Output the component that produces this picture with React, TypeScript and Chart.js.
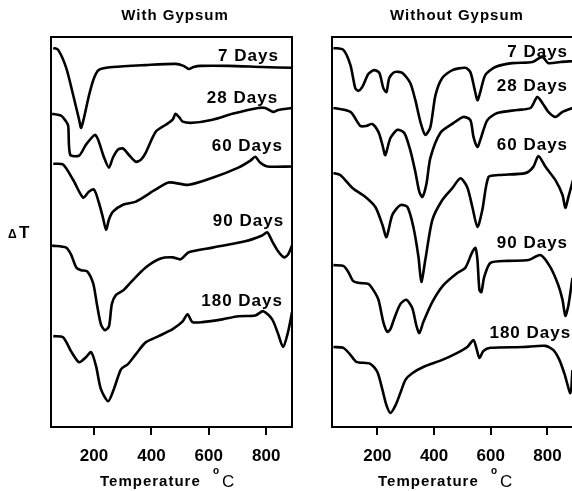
import React, { useEffect, useRef } from "react";
import { Chart, registerables } from "chart.js";

Chart.register(...registerables);

const FONT = '"Liberation Sans", Arial, Helvetica, sans-serif';

// Temperature ticks shown under both panels (°C)
const tempTicks = [200, 400, 600, 800];

// DTA traces, [temperature °C, ΔT in relative units]; curves are stacked by age
// ---- With gypsum ----
const gyp7 = [
  [58, 97.2], [75, 96.7], [103, 92.1], [127, 85.2], [148, 78.8], [155, 76.7], [165, 79.3],
  [183, 85.2], [200, 89.5], [217, 91.6], [266, 92.3], [380, 92.8], [484, 93.1], [512, 92.6],
  [530, 91.8], [547, 92.3], [571, 92.6], [668, 92.6], [786, 92.3], [890, 92.1],
];
const gyp28 = [
  [54, 80.3], [86, 79.8], [103, 78.3], [110, 77.2], [117, 69.8], [148, 69.6], [172, 72.4],
  [203, 74.9], [214, 73.7], [235, 69.1], [252, 66.5], [266, 69.1], [283, 71.1], [301, 71.4],
  [321, 69.8], [346, 68.0], [363, 68.5], [380, 70.3], [415, 75.7], [450, 77.5], [474, 78.8],
  [484, 80.3], [498, 79.3], [509, 78.3], [543, 78.0], [613, 78.8], [682, 80.3], [772, 81.8],
  [797, 81.8], [824, 80.8], [842, 81.3], [890, 81.8],
];
const gyp60 = [
  [58, 67.5], [92, 67.3], [127, 63.4], [162, 58.8], [183, 60.4], [200, 60.9], [217, 57.5],
  [231, 53.7], [242, 50.6], [252, 53.2], [266, 55.2], [301, 57.0], [346, 57.8], [415, 60.9],
  [460, 62.7], [530, 62.1], [613, 63.9], [703, 66.5], [745, 68.3], [762, 69.3], [779, 67.8],
  [804, 66.8], [890, 66.8],
];
const gyp90 = [
  [54, 46.5], [103, 46.0], [120, 44.2], [138, 40.9], [155, 40.2], [176, 39.9], [197, 36.8],
  [210, 31.5], [224, 26.3], [238, 24.8], [252, 25.8], [262, 31.5], [276, 33.8], [301, 35.0],
  [328, 37.1], [380, 40.9], [432, 43.2], [474, 43.5], [502, 43.0], [530, 44.8], [613, 46.0],
  [727, 47.6], [786, 49.1], [804, 49.9], [821, 47.6], [842, 45.0], [862, 43.5], [876, 44.2],
  [890, 46.5],
];
const gyp180 = [
  [58, 23.3], [92, 23.0], [120, 19.4], [148, 16.6], [172, 17.9], [190, 19.2], [207, 15.6],
  [224, 9.7], [249, 6.6], [269, 9.7], [294, 14.8], [318, 16.1], [346, 18.7], [380, 21.7],
  [425, 23.3], [474, 25.1], [509, 27.1], [526, 28.9], [543, 26.9], [578, 26.9], [647, 27.6],
  [703, 28.4], [762, 28.6], [790, 29.7], [821, 27.6], [842, 23.8], [859, 20.5], [876, 24.3],
  [890, 29.4],
];

// ---- Without gypsum ----
const plain7 = [
  [45, 97.2], [80, 96.7], [105, 92.8], [122, 86.9], [133, 86.2], [147, 87.2], [168, 90.5],
  [189, 91.5], [207, 90.8], [221, 86.9], [232, 85.9], [242, 89.5], [260, 91.0], [288, 90.8],
  [316, 88.2], [334, 83.8], [352, 78.2], [369, 74.9], [387, 76.9], [405, 85.1], [429, 89.5],
  [465, 91.5], [510, 92.1], [528, 91.0], [542, 86.9], [553, 83.8], [563, 85.9], [581, 90.3],
  [616, 92.3], [676, 93.3], [747, 93.6], [782, 94.9], [803, 93.3], [845, 93.6], [888, 93.8],
];
const plain28 = [
  [45, 81.8], [105, 80.8], [140, 77.2], [161, 77.2], [182, 77.7], [204, 75.6], [218, 72.3],
  [228, 69.7], [246, 74.1], [271, 76.2], [295, 75.4], [316, 71.0], [334, 65.4], [348, 60.3],
  [359, 59.0], [373, 62.3], [387, 69.0], [422, 75.4], [468, 77.9], [503, 79.5], [528, 78.7],
  [539, 74.4], [553, 71.8], [563, 73.6], [588, 78.7], [623, 80.5], [694, 81.3], [740, 81.8],
  [764, 84.6], [782, 83.1], [803, 80.8], [828, 79.5], [853, 80.8], [888, 81.8],
];
const plain60 = [
  [45, 65.1], [69, 64.6], [112, 61.3], [158, 59.0], [193, 56.4], [218, 51.8], [232, 48.7],
  [253, 54.4], [281, 56.9], [306, 56.4], [327, 51.3], [345, 43.6], [355, 37.2], [369, 42.8],
  [394, 53.1], [429, 58.2], [465, 61.3], [493, 63.8], [517, 61.5], [535, 56.4], [553, 51.3],
  [570, 55.6], [592, 64.1], [627, 64.6], [722, 65.1], [750, 66.7], [768, 69.5], [793, 66.7],
  [828, 63.3], [853, 59.5], [863, 56.2], [874, 59.0], [890, 63.3],
];
const plain90 = [
  [45, 41.5], [80, 41.3], [98, 39.7], [115, 37.4], [140, 36.9], [168, 36.7], [186, 35.1],
  [204, 32.6], [221, 26.9], [235, 24.4], [246, 25.1], [260, 27.9], [281, 31.5], [302, 32.6],
  [323, 30.5], [338, 25.9], [348, 24.1], [362, 26.9], [394, 32.1], [433, 36.4], [482, 39.5],
  [510, 40.8], [535, 44.9], [546, 45.9], [553, 42.8], [560, 35.1], [567, 34.6], [577, 38.5],
  [599, 42.1], [659, 42.6], [733, 42.8], [775, 44.1], [810, 41.0], [838, 36.4], [853, 32.6],
  [863, 28.5], [874, 31.3], [888, 38.2],
];
const plain180 = [
  [45, 20.5], [80, 20.3], [105, 18.5], [126, 16.7], [175, 16.2], [200, 14.1], [218, 9.5],
  [232, 5.6], [246, 3.6], [263, 5.4], [281, 8.7], [299, 12.1], [323, 13.8], [362, 15.4],
  [429, 17.2], [482, 19.0], [517, 20.5], [539, 22.3], [549, 20.3], [560, 17.7], [574, 19.5],
  [599, 20.3], [715, 20.5], [793, 20.8], [821, 19.7], [842, 17.2], [860, 13.6], [881, 8.7],
  [888, 14.6],
];

const ageLabels = ["7 Days", "28 Days", "60 Days", "90 Days", "180 Days"];
// Where each age label sits, in [temperature, ΔT] of its panel (right edge, middle)
const gypLabelAt = [[841, 95.0], [838, 84.2], [855, 71.9], [859, 52.8], [855, 32.2]];
const plainLabelAt = [[869, 96.2], [869, 87.3], [869, 72.3], [869, 47.1], [880, 24.0]];

type Panel = {
  title: string;
  titleX: number;
  curves: number[][][];
  labelAt: number[][];
  xMin: number;
  xMax: number;
  padLeft: number;
  padRight: number;
  xTitleLeft: number;
  showDeltaT: boolean;
};

const panels: Panel[] = [
  {
    title: "With Gypsum",
    titleX: 175,
    curves: [gyp7, gyp28, gyp60, gyp90, gyp180],
    labelAt: gypLabelAt,
    xMin: 50,
    xMax: 890,
    padLeft: 51,
    padRight: 8,
    xTitleLeft: 100,
    showDeltaT: true,
  },
  {
    title: "Without Gypsum",
    titleX: 157,
    curves: [plain7, plain28, plain60, plain90, plain180],
    labelAt: plainLabelAt,
    xMin: 40,
    xMax: 890,
    padLeft: 32,
    padRight: 27,
    xTitleLeft: 78,
    showDeltaT: false,
  },
];

function spacedText(ctx: CanvasRenderingContext2D, text: string, x: number, y: number, spacing: string) {
  (ctx as any).letterSpacing = spacing;
  ctx.fillText(text, x, y);
  (ctx as any).letterSpacing = "0px";
}

function decorPlugin(panel: Panel) {
  return {
    id: "panelDecor",
    afterDraw(chart: Chart) {
      const { ctx, chartArea } = chart;
      const xs = chart.scales.x;
      const ys = chart.scales.y;
      ctx.save();
      // frame
      ctx.strokeStyle = "#000";
      ctx.lineWidth = 2;
      ctx.strokeRect(chartArea.left, chartArea.top, chartArea.right - chartArea.left, chartArea.bottom - chartArea.top);

      ctx.fillStyle = "#000";
      // age labels
      ctx.font = `bold 17px ${FONT}`;
      ctx.textAlign = "right";
      ctx.textBaseline = "middle";
      panel.labelAt.forEach(([t, v], i) => {
        spacedText(ctx, ageLabels[i], xs.getPixelForValue(t) + 1, ys.getPixelForValue(v), "1px");
      });

      // panel title
      ctx.font = `bold 15px ${FONT}`;
      ctx.textAlign = "center";
      ctx.textBaseline = "alphabetic";
      spacedText(ctx, panel.title, panel.titleX, 20, "1px");

      // axis title: Temperature °C
      ctx.textAlign = "left";
      ctx.font = `bold 15px ${FONT}`;
      spacedText(ctx, "Temperature", panel.xTitleLeft, 486, "1px");
      ctx.font = `bold 10px ${FONT}`;
      ctx.fillText("o", panel.xTitleLeft + 113, 474);
      ctx.font = `17px ${FONT}`;
      ctx.fillText("C", panel.xTitleLeft + 122, 487);

      if (panel.showDeltaT) {
        ctx.font = `bold 12px ${FONT}`;
        ctx.fillText("\u0394", 8, 238);
        ctx.font = `bold 17px ${FONT}`;
        ctx.fillText("T", 19, 238);
      }
      ctx.restore();
    },
  };
}

function buildConfig(panel: Panel): any {
  return {
    type: "line",
    data: {
      datasets: panel.curves.map((c, i) => ({
        label: ageLabels[i],
        data: c.map(([t, v]) => ({ x: t, y: v })),
        borderColor: "#000",
        borderWidth: 2.6,
        pointRadius: 0,
        tension: 0.25,
        fill: false,
      })),
    },
    options: {
      responsive: false,
      animation: false,
      layout: { padding: { left: panel.padLeft, right: panel.padRight, top: 37, bottom: 0 } },
      plugins: { legend: { display: false }, tooltip: { enabled: false }, title: { display: false } },
      scales: {
        x: {
          type: "linear",
          min: panel.xMin,
          max: panel.xMax,
          afterBuildTicks: (s: any) => {
            s.ticks = tempTicks.map((v) => ({ value: v }));
          },
          afterFit: (s: any) => {
            s.height = 64;
          },
          ticks: {
            autoSkip: false,
            maxRotation: 0,
            padding: 11,
            color: "#000",
            font: { family: FONT, size: 17, weight: "bold" },
          },
          grid: {
            display: true,
            drawOnChartArea: false,
            drawTicks: true,
            tickLength: 8,
            color: "#000",
            lineWidth: 2,
          },
          border: { display: false },
        },
        y: { type: "linear", display: false, min: 0, max: 100 },
      },
    },
    plugins: [decorPlugin(panel)],
  };
}

export default function App() {
  const leftRef = useRef<HTMLCanvasElement>(null);
  const rightRef = useRef<HTMLCanvasElement>(null);

  useEffect(() => {
    const a = new Chart(leftRef.current as HTMLCanvasElement, buildConfig(panels[0]));
    const b = new Chart(rightRef.current as HTMLCanvasElement, buildConfig(panels[1]));
    return () => {
      a.destroy();
      b.destroy();
    };
  }, []);

  return (
    <div style={{ position: "fixed", left: 0, top: 0, width: 572, height: 491, overflow: "hidden", background: "#fff" }}>
      <canvas ref={leftRef} width={300} height={491} style={{ position: "absolute", left: 0, top: 0 }} />
      <canvas ref={rightRef} width={300} height={491} style={{ position: "absolute", left: 300, top: 0 }} />
    </div>
  );
}
